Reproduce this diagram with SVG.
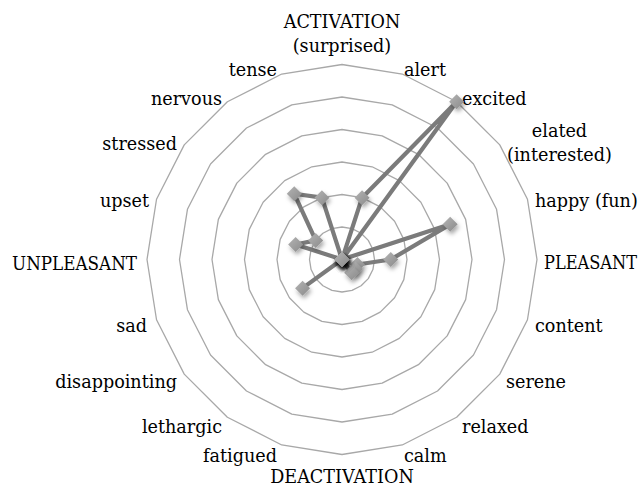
<svg xmlns="http://www.w3.org/2000/svg" width="644" height="489" viewBox="0 0 644 489">
  <defs>
    <style>
      .ring { fill: none; stroke: #a8a8a8; stroke-width: 1.3; stroke-linejoin: round; }
      .lbl { font-family: "DejaVu Serif", "Liberation Serif", serif; font-size: 17.6px; fill: #000; }
      .mid { text-anchor: middle; }
      .end { text-anchor: end; }
      .series { fill: none; stroke: #7b7b7b; stroke-width: 4.2; stroke-linejoin: round; }
      .pt { fill: url(#ptFill); filter: url(#ptShadow); }
    </style>
    <linearGradient id="ptFill" x1="0" y1="0" x2="1" y2="1">
      <stop offset="0" stop-color="#b4b4b4"/>
      <stop offset="1" stop-color="#8a8a8a"/>
    </linearGradient>
    <filter id="ptShadow" x="-80%" y="-80%" width="260%" height="260%">
      <feDropShadow dx="1.5" dy="3" stdDeviation="2" flood-color="#000" flood-opacity="0.35"/>
    </filter>
    <path id="diamond" d="M0,-7.5 L7.5,0 L0,7.5 L-7.5,0 Z"/>
  </defs>

  <!-- concentric 20-sided grid, centre (342,259.5), step 32.5 -->
  <g id="grid">
    <polygon class="ring" points="342,227 352.04,228.59 361.10,233.21 368.29,240.40 372.91,249.46 374.5,259.5 372.91,269.54 368.29,278.60 361.10,285.79 352.04,290.41 342,292 331.96,290.41 322.90,285.79 315.71,278.60 311.09,269.54 309.5,259.5 311.09,249.46 315.71,240.40 322.90,233.21 331.96,228.59"/>
    <polygon class="ring" points="342,194.5 362.09,197.68 380.21,206.91 394.59,221.29 403.82,239.41 407,259.5 403.82,279.59 394.59,297.71 380.21,312.09 362.09,321.32 342,324.5 321.91,321.32 303.79,312.09 289.41,297.71 280.18,279.59 277,259.5 280.18,239.41 289.41,221.29 303.79,206.91 321.91,197.68"/>
    <polygon class="ring" points="342,162 372.13,166.77 399.31,180.62 420.88,202.19 434.73,229.37 439.5,259.5 434.73,289.63 420.88,316.81 399.31,338.38 372.13,352.23 342,357 311.87,352.23 284.69,338.38 263.12,316.81 249.27,289.63 244.5,259.5 249.27,229.37 263.12,202.19 284.69,180.62 311.87,166.77"/>
    <polygon class="ring" points="342,129.5 382.17,135.86 418.41,154.33 447.17,183.09 465.64,219.33 472,259.5 465.64,299.67 447.17,335.91 418.41,364.67 382.17,383.14 342,389.5 301.83,383.14 265.59,364.67 236.83,335.91 218.36,299.67 212,259.5 218.36,219.33 236.83,183.09 265.59,154.33 301.83,135.86"/>
    <polygon class="ring" points="342,97 392.22,104.95 437.52,128.03 473.47,163.98 496.55,209.28 504.5,259.5 496.55,309.72 473.47,355.02 437.52,390.97 392.22,414.05 342,422 291.78,414.05 246.48,390.97 210.53,355.02 187.45,309.72 179.5,259.5 187.45,209.28 210.53,163.98 246.48,128.03 291.78,104.95"/>
    <polygon class="ring" points="342,64.5 402.26,74.04 456.62,101.74 499.76,144.88 527.46,199.24 537,259.5 527.46,319.76 499.76,374.12 456.62,417.26 402.26,444.96 342,454.5 281.74,444.96 227.38,417.26 184.24,374.12 156.54,319.76 147,259.5 156.54,199.24 184.24,144.88 227.38,101.74 281.74,74.04"/>
  </g>

  <!-- axis labels, clockwise from the top -->
  <g id="labels">
    <g id="lbl-activation"><text class="lbl mid" x="342" y="28">ACTIVATION</text><text class="lbl mid" x="342" y="52">(surprised)</text></g>
    <g id="lbl-alert"><text class="lbl" x="404" y="76">alert</text></g>
    <g id="lbl-excited"><text class="lbl" x="462" y="105">excited</text></g>
    <g id="lbl-elated"><text class="lbl mid" x="559.5" y="137">elated</text><text class="lbl mid" x="559.5" y="161">(interested)</text></g>
    <g id="lbl-happy"><text class="lbl" x="535" y="207">happy (fun)</text></g>
    <g id="lbl-pleasant"><text class="lbl" x="544" y="269" textLength="93" lengthAdjust="spacingAndGlyphs">PLEASANT</text></g>
    <g id="lbl-content"><text class="lbl" x="535" y="332">content</text></g>
    <g id="lbl-serene"><text class="lbl" x="506" y="388">serene</text></g>
    <g id="lbl-relaxed"><text class="lbl" x="462" y="433">relaxed</text></g>
    <g id="lbl-calm"><text class="lbl" x="404" y="462">calm</text></g>
    <g id="lbl-deactivation"><text class="lbl mid" x="342" y="483">DEACTIVATION</text></g>
    <g id="lbl-fatigued"><text class="lbl end" x="277" y="462">fatigued</text></g>
    <g id="lbl-lethargic"><text class="lbl end" x="222" y="433">lethargic</text></g>
    <g id="lbl-disappointing"><text class="lbl end" x="177" y="388">disappointing</text></g>
    <g id="lbl-sad"><text class="lbl end" x="147" y="332">sad</text></g>
    <g id="lbl-unpleasant"><text class="lbl" x="12" y="270" textLength="125" lengthAdjust="spacingAndGlyphs">UNPLEASANT</text></g>
    <g id="lbl-upset"><text class="lbl end" x="149" y="207">upset</text></g>
    <g id="lbl-stressed"><text class="lbl end" x="177" y="150">stressed</text></g>
    <g id="lbl-nervous"><text class="lbl end" x="222" y="105">nervous</text></g>
    <g id="lbl-tense"><text class="lbl end" x="277" y="76">tense</text></g>
  </g>

  <!-- data series -->
  <g id="series-line">
    <polygon class="series" points="342,259.5 362.09,197.68 456.62,101.74 342,259.5 450.18,224.35 390.75,259.5 357.45,264.52 355.15,269.05 351.55,272.65 342,259.5 342,259.5 342,259.5 342,259.5 302.56,288.15 342,259.5 342,259.5 295.64,244.44 315.71,240.40 294.24,193.77 321.91,197.68"/>
  </g>
  <g id="series-points">
    <use href="#diamond" class="pt" x="342" y="259.5"/>
    <use href="#diamond" class="pt" x="362.09" y="197.68"/>
    <use href="#diamond" class="pt" x="456.62" y="101.74"/>
    <use href="#diamond" class="pt" x="342" y="259.5"/>
    <use href="#diamond" class="pt" x="450.18" y="224.35"/>
    <use href="#diamond" class="pt" x="390.75" y="259.5"/>
    <use href="#diamond" class="pt" x="357.45" y="264.52"/>
    <use href="#diamond" class="pt" x="355.15" y="269.05"/>
    <use href="#diamond" class="pt" x="351.55" y="272.65"/>
    <use href="#diamond" class="pt" x="342" y="259.5"/>
    <use href="#diamond" class="pt" x="342" y="259.5"/>
    <use href="#diamond" class="pt" x="342" y="259.5"/>
    <use href="#diamond" class="pt" x="342" y="259.5"/>
    <use href="#diamond" class="pt" x="302.56" y="288.15"/>
    <use href="#diamond" class="pt" x="342" y="259.5"/>
    <use href="#diamond" class="pt" x="342" y="259.5"/>
    <use href="#diamond" class="pt" x="295.64" y="244.44"/>
    <use href="#diamond" class="pt" x="315.71" y="240.40"/>
    <use href="#diamond" class="pt" x="294.24" y="193.77"/>
    <use href="#diamond" class="pt" x="321.91" y="197.68"/>
  </g>
</svg>
